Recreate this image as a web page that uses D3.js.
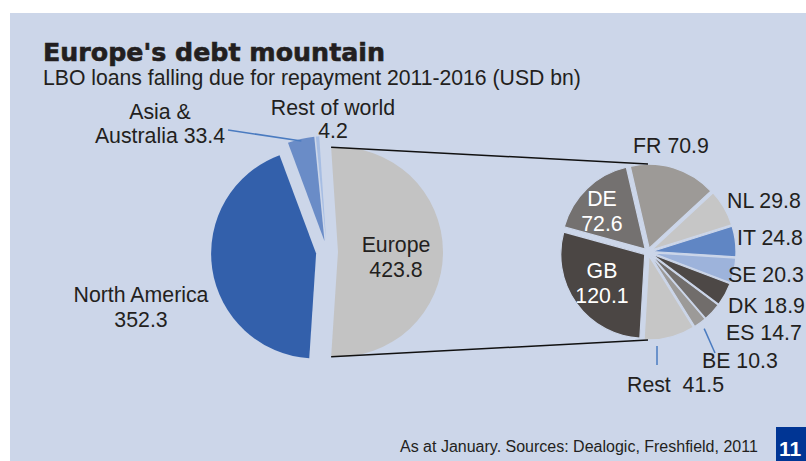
<!DOCTYPE html>
<html>
<head>
<meta charset="utf-8">
<script src="https://cdn.jsdelivr.net/npm/d3@7"></script>
<style>
    body { margin: 0; background: #fff; }
    svg { display: block; }
    text { font-family: "Liberation Sans", Arial, sans-serif; fill: #231f20; }
</style>
</head>
<body>
<div id="chart"></div>
<script>
// Left pie: world regions (USD bn)
var regions = ["Europe", "North America", "Asia & Australia", "Rest of world"];
var regionValues = [423.8, 352.3, 33.4, 4.2];
var regionColors = ["#c3c3c3", "#3360ab", "#6a8cc7", "#a6bde3"];

// Right pie: breakdown of Europe, clockwise from the top
var countries = ["FR", "NL", "IT", "SE", "DK", "ES", "BE", "Rest", "GB", "DE"];
var countryValues = [70.9, 29.8, 24.8, 20.3, 18.9, 14.7, 10.3, 41.5, 120.1, 72.6];
var countryColors = ["#9d9a97", "#c6c6c6", "#6086c4", "#9db3db", "#4d4846",
                     "#716d6b", "#9c9a98", "#c6c6c6", "#4b4644", "#747170"];

function chart() {
    var width = 806;
    var height = 461;
    var bg = "#ccd6e9";
    var labelSize = "21.3px";

    var svg = d3.select("#chart")
                .append("svg")
                .attr("width", width)
                .attr("height", height);

    // panel
    svg.append("rect")
        .attr("x", 10)
        .attr("y", 13)
        .attr("width", width - 10)
        .attr("height", height - 13)
        .attr("fill", bg);

    // titles
    svg.append("text")
        .attr("x", 43)
        .attr("y", 61)
        .attr("textLength", 342)
        .attr("lengthAdjust", "spacingAndGlyphs")
        .style("font-family", "'DejaVu Sans', sans-serif")
        .style("font-weight", "bold")
        .style("font-size", "25px")
        .style("stroke", "#231f20")
        .style("stroke-width", 0.6)
        .text("Europe's debt mountain");

    svg.append("text")
        .attr("x", 43)
        .attr("y", 85)
        .style("font-size", "21.2px")
        .text("LBO loans falling due for repayment 2011-2016 (USD bn)");

    // ---- left pie ----
    var c1 = [327, 252], r1 = 105, boom1 = 11;
    var total1 = d3.sum(regionValues);
    var europeAngle = regionValues[0] / total1 * 2 * Math.PI;
    var start1 = Math.PI / 2 - europeAngle / 2;   // Europe centred on the right

    var pie1 = d3.pie().sort(null).value(function(d) { return d; })
                 .startAngle(start1).endAngle(start1 + 2 * Math.PI);
    var arcs1 = pie1(regionValues);
    var arc1 = d3.arc().innerRadius(0).outerRadius(r1);

    function offset(d, dist) {
        var mid = (d.startAngle + d.endAngle) / 2;
        return [dist * Math.sin(mid), -dist * Math.cos(mid)];
    }

    svg.append("g")
        .attr("transform", "translate(" + c1[0] + "," + c1[1] + ")")
        .selectAll("path")
        .data(arcs1)
        .enter()
        .append("path")
        .attr("transform", function(d) {
            var o = offset(d, boom1);
            return "translate(" + o[0] + "," + o[1] + ")";
        })
        .attr("d", arc1)
        .attr("fill", function(d, i) { return regionColors[i]; });

    // ---- right pie ----
    var c2 = [648, 252], r2 = 84, boom2 = 4;
    var start2 = -13 * Math.PI / 180;
    var pie2 = d3.pie().sort(null).value(function(d) { return d; })
                 .startAngle(start2).endAngle(start2 + 2 * Math.PI);
    var arcs2 = pie2(countryValues);
    var arc2 = d3.arc().innerRadius(0).outerRadius(r2);

    svg.append("g")
        .attr("transform", "translate(" + c2[0] + "," + c2[1] + ")")
        .selectAll("path")
        .data(arcs2)
        .enter()
        .append("path")
        .attr("transform", function(d) {
            var o = offset(d, boom2);
            return "translate(" + o[0] + "," + o[1] + ")";
        })
        .attr("d", arc2)
        .attr("fill", function(d, i) { return countryColors[i]; })
        .attr("stroke", bg)
        .attr("stroke-width", 1.2);

    // connector lines from Europe slice to the second pie
    var eu = arcs1[0];
    var euOff = offset(eu, boom1);
    var euTop = [c1[0] + euOff[0] + r1 * Math.sin(eu.startAngle), c1[1] + euOff[1] - r1 * Math.cos(eu.startAngle)];
    var euBot = [c1[0] + euOff[0] + r1 * Math.sin(eu.endAngle), c1[1] + euOff[1] - r1 * Math.cos(eu.endAngle)];
    var links = [[euTop, [c2[0], c2[1] - r2 - boom2]], [euBot, [c2[0], c2[1] + r2 + boom2]]];

    svg.selectAll(".link")
        .data(links)
        .enter()
        .append("line")
        .attr("class", "link")
        .attr("x1", function(d) { return d[0][0]; })
        .attr("y1", function(d) { return d[0][1]; })
        .attr("x2", function(d) { return d[1][0]; })
        .attr("y2", function(d) { return d[1][1]; })
        .attr("stroke", "#111")
        .attr("stroke-width", 1.5);

    // ---- labels (positions relative to pie centres) ----
    var fmt = d3.format(".1f");
    var leftLabels = [
        {lines: ["Europe", fmt(regionValues[0])], dx: 69, dy: 0, lh: 25},
        {lines: ["North America", fmt(regionValues[1])], dx: -186, dy: 50, lh: 25},
        {lines: ["Asia &", "Australia " + fmt(regionValues[2])], dx: -167, dy: -133, lh: 24},
        {lines: ["Rest of world", fmt(regionValues[3])], dx: 6, dy: -137, lh: 23}
    ];
    var rightLabels = [
        {dx: 23, dy: -99, anchor: "middle"},
        {dx: 79, dy: -44, anchor: "start"},
        {dx: 89, dy: -7, anchor: "start"},
        {dx: 80, dy: 30, anchor: "start"},
        {dx: 80, dy: 61, anchor: "start"},
        {dx: 78, dy: 88, anchor: "start"},
        {dx: 54, dy: 116, anchor: "start"},
        {dx: -21, dy: 140, anchor: "start", sep: "  "},
        {dx: -46, dy: 26, anchor: "middle", inside: true},
        {dx: -46, dy: -46, anchor: "middle", inside: true}
    ];

    leftLabels.forEach(function(l) {
        var t = svg.append("text")
            .attr("text-anchor", "middle")
            .style("font-size", labelSize)
            .attr("x", c1[0] + l.dx)
            .attr("y", c1[1] + l.dy);
        l.lines.forEach(function(s, j) {
            t.append("tspan")
                .attr("x", c1[0] + l.dx)
                .attr("dy", j === 0 ? 0 : l.lh)
                .text(s);
        });
    });

    rightLabels.forEach(function(l, i) {
        var t = svg.append("text")
            .attr("text-anchor", l.anchor)
            .style("font-size", labelSize)
            .style("white-space", "pre")
            .attr("x", c2[0] + l.dx)
            .attr("y", c2[1] + l.dy);
        if (l.inside) {
            t.style("fill", "#fff");
            [countries[i], fmt(countryValues[i])].forEach(function(s, j) {
                t.append("tspan")
                    .attr("x", c2[0] + l.dx)
                    .attr("dy", j === 0 ? 0 : 25)
                    .text(s);
            });
        } else {
            t.text(countries[i] + (l.sep || " ") + fmt(countryValues[i]));
        }
    });

    // leader lines
    function rim(arcs, i, c, r, boom) {
        var d = arcs[i];
        var mid = (d.startAngle + d.endAngle) / 2;
        return [c[0] + (r + boom) * Math.sin(mid), c[1] - (r + boom) * Math.cos(mid)];
    }
    var asiaRim = rim(arcs1, 2, c1, r1 - 2, boom1);
    var beRim = rim(arcs2, 6, c2, r2 + 7, boom2);
    var leaders = [
        [[c1[0] - 99, c1[1] - 122], asiaRim],
        [beRim, [c2[0] + 67, c2[1] + 101]],
        [[c2[0] + 9, c2[1] + 94], [c2[0] + 9, c2[1] + 113]]
    ];
    svg.selectAll(".leader")
        .data(leaders)
        .enter()
        .append("line")
        .attr("class", "leader")
        .attr("x1", function(d) { return d[0][0]; })
        .attr("y1", function(d) { return d[0][1]; })
        .attr("x2", function(d) { return d[1][0]; })
        .attr("y2", function(d) { return d[1][1]; })
        .attr("stroke", "#4a7bc0")
        .attr("stroke-width", 1.5);

    // footer
    svg.append("text")
        .attr("x", 400)
        .attr("y", 452)
        .style("font-size", "16px")
        .text("As at January. Sources: Dealogic, Freshfield, 2011");

    svg.append("rect")
        .attr("x", 776)
        .attr("y", 427)
        .attr("width", 30)
        .attr("height", 34)
        .attr("fill", "#003594");

    svg.append("text")
        .attr("x", 779)
        .attr("y", 456)
        .style("font-size", "21px")
        .style("font-weight", "bold")
        .style("fill", "#fff")
        .text("11");
}

window.onload = chart;
</script>
</body>
</html>
